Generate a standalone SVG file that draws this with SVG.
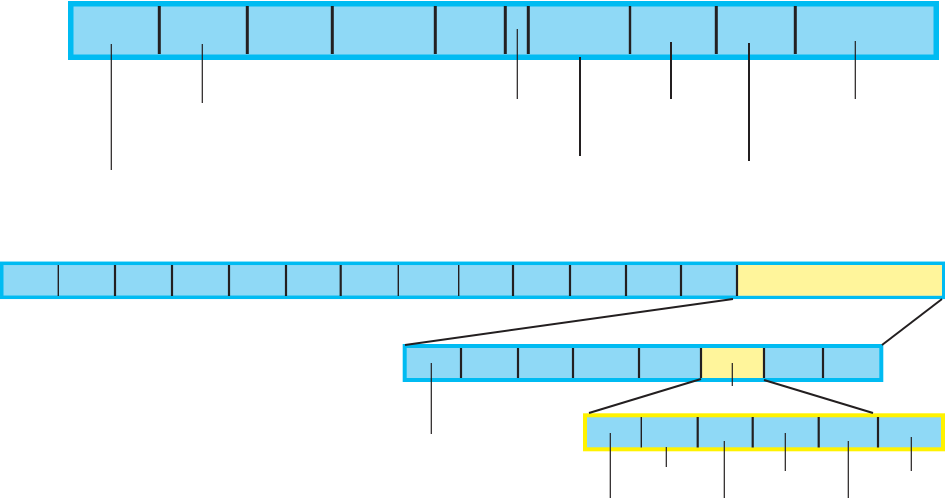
<svg xmlns="http://www.w3.org/2000/svg" width="946" height="498" viewBox="0 0 946 498">
<style>
.bar{fill:#8FD9F6;stroke:#00BBF2}
.ybox{fill:#8FD9F6;stroke:#FFF200;stroke-width:4}
.hl{fill:#FFF59B}
.div{stroke:#231F20;stroke-width:2.2}
.divt{stroke:#231F20;stroke-width:1.4}
.lead{stroke:#231F20;stroke-width:1.2;fill:none}
.leadb{stroke:#231F20;stroke-width:2;fill:none}
.conn{stroke:#231F20;stroke-width:2;fill:none}
</style>
<rect width="946" height="498" fill="#ffffff"/>
<g id="top-bar">
<rect class="bar" x="70.75" y="3.75" width="865.5" height="53.5" stroke-width="5.5"/>
<g class="div" stroke-width="3">
<line x1="159.3" y1="6" x2="159.3" y2="54" style="stroke-width:3"/>
<line x1="247.3" y1="6" x2="247.3" y2="54" style="stroke-width:3"/>
<line x1="332.3" y1="6" x2="332.3" y2="54" style="stroke-width:3"/>
<line x1="435.3" y1="6" x2="435.3" y2="54" style="stroke-width:3"/>
<line x1="505.3" y1="6" x2="505.3" y2="54" style="stroke-width:3"/>
<line x1="528.3" y1="6" x2="528.3" y2="54" style="stroke-width:3"/>
<line x1="630" y1="6" x2="630" y2="54" style="stroke-width:2.4"/>
<line x1="716.3" y1="6" x2="716.3" y2="54" style="stroke-width:3"/>
<line x1="795.3" y1="6" x2="795.3" y2="54" style="stroke-width:3"/>
</g>
</g>
<g id="middle-bar">
<rect class="bar" x="1.75" y="263.3" width="941.5" height="34" stroke-width="3.5"/>
<rect class="hl" x="737" y="265" width="205" height="30.7"/>
<line class="divt" x1="58.3" y1="265" x2="58.3" y2="296"/>
<line class="div" x1="115" y1="265" x2="115" y2="296"/>
<line class="div" x1="172" y1="265" x2="172" y2="296"/>
<line class="div" x1="229" y1="265" x2="229" y2="296"/>
<line class="div" x1="286" y1="265" x2="286" y2="296"/>
<line class="div" x1="340.7" y1="265" x2="340.7" y2="296"/>
<line class="divt" x1="398.3" y1="265" x2="398.3" y2="296"/>
<line class="divt" x1="458.7" y1="265" x2="458.7" y2="296"/>
<line class="div" x1="513" y1="265" x2="513" y2="296"/>
<line class="div" x1="570" y1="265" x2="570" y2="296"/>
<line class="div" x1="626" y1="265" x2="626" y2="296"/>
<line class="div" x1="681" y1="265" x2="681" y2="296"/>
<line class="div" x1="737" y1="265" x2="737" y2="296"/>
</g>
<g id="lower-bar">
<rect class="bar" x="404.7" y="346" width="476.6" height="34" stroke-width="4"/>
<rect class="hl" x="701" y="348" width="63" height="30"/>
<line class="div" x1="461" y1="348" x2="461" y2="378"/>
<line class="div" x1="518" y1="348" x2="518" y2="378"/>
<line class="div" x1="573" y1="348" x2="573" y2="378"/>
<line class="div" x1="639" y1="348" x2="639" y2="378"/>
<line class="div" x1="701" y1="348" x2="701" y2="378"/>
<line class="div" x1="764" y1="348" x2="764" y2="378"/>
<line class="div" x1="823" y1="348" x2="823" y2="378"/>
</g>
<g id="yellow-box">
<rect class="ybox" x="585" y="415.3" width="358" height="34"/>
<line class="divt" x1="641.3" y1="417" x2="641.3" y2="447.5"/>
<line class="div" x1="697.7" y1="417" x2="697.7" y2="447.5"/>
<line class="div" x1="752.7" y1="417" x2="752.7" y2="447.5"/>
<line class="div" x1="818.7" y1="417" x2="818.7" y2="447.5"/>
<line class="div" x1="878" y1="417" x2="878" y2="447.5"/>
</g>
<g id="connectors">
<line class="lead" x1="111.3" y1="44" x2="111.3" y2="170"/>
<line class="lead" x1="202.3" y1="44" x2="202.3" y2="103"/>
<line class="lead" x1="517.3" y1="29" x2="517.3" y2="99"/>
<line class="leadb" x1="580" y1="57" x2="580" y2="156"/>
<line class="leadb" x1="671" y1="42" x2="671" y2="99"/>
<line class="leadb" x1="749" y1="43" x2="749" y2="161"/>
<line class="lead" x1="855.3" y1="41" x2="855.3" y2="99"/>
<line class="conn" x1="733" y1="299" x2="405" y2="345"/>
<line class="conn" x1="942" y1="299" x2="882" y2="345"/>
<line class="lead" x1="431.3" y1="363" x2="431.3" y2="434"/>
<line class="lead" x1="732.3" y1="363" x2="732.3" y2="386"/>
<line class="conn" x1="701" y1="379" x2="589" y2="413"/>
<line class="conn" x1="764" y1="380" x2="873" y2="413"/>
<line class="lead" x1="610.3" y1="433" x2="610.3" y2="498"/>
<line class="lead" x1="666.3" y1="447" x2="666.3" y2="467"/>
<line class="lead" x1="724.3" y1="441" x2="724.3" y2="498"/>
<line class="lead" x1="785.3" y1="433" x2="785.3" y2="471"/>
<line class="lead" x1="848.3" y1="441" x2="848.3" y2="498"/>
<line class="lead" x1="911.3" y1="437" x2="911.3" y2="471"/>
</g>
</svg>
